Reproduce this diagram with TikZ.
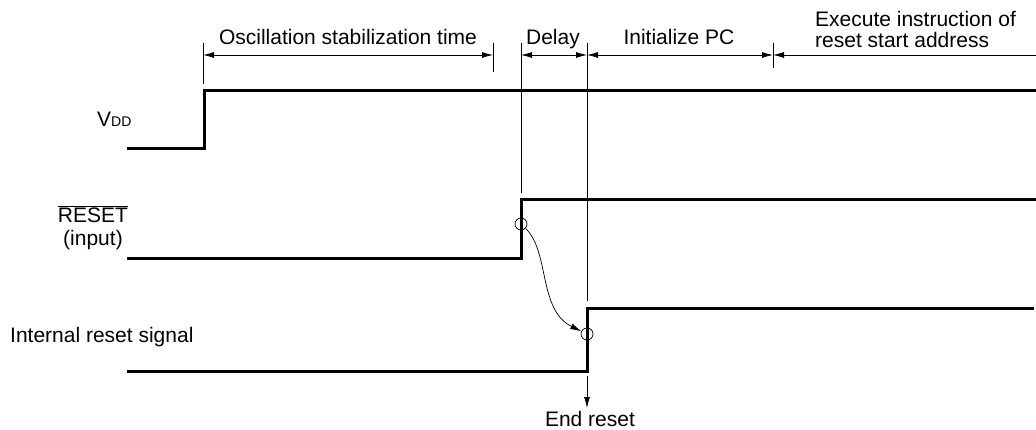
\documentclass[tikz,border=0pt]{standalone}
\usepackage{fontspec}
\setmainfont{Liberation Sans}
\usetikzlibrary{arrows.meta}
\newcommand{\myoverbar}[1]{{\setbox0\hbox{#1}\vbox{\hrule width\wd0 height 0.9pt\kern1.5pt\box0}}}
\begin{document}
\begin{tikzpicture}[x=1pt,y=-1pt,
  sig/.style={line width=3pt,line cap=rect},
  thin/.style={line width=0.8pt},
  dim/.style={line width=0.8pt,{Latex[length=11pt,width=6pt]}-{Latex[length=11pt,width=6pt]}},
  lbl/.style={font=\fontsize{21}{21}\selectfont,inner sep=0pt},
  ring/.style={draw,line width=0.7pt,circle,minimum size=12pt,inner sep=0pt}]
\useasboundingbox (0,0) rectangle (1036,430);
% ticks
\coordinate (t1a) at (203,43); \coordinate (t1b) at (203,84);
\coordinate (t2a) at (493,43); \coordinate (t2b) at (493,72);
\coordinate (t3a) at (521,43); \coordinate (t3b) at (521,193);
\coordinate (t4a) at (587,43); \coordinate (t4b) at (587,301);
\coordinate (t5a) at (773,43); \coordinate (t5b) at (773,68);
\foreach \a/\b in {t1a/t1b,t2a/t2b,t3a/t3b,t4a/t4b,t5a/t5b}
  \draw[thin] (\a) -- (\b);
% dimension arrows
\coordinate (d1) at (203,55); \coordinate (d2) at (493,55);
\coordinate (d3) at (521,55); \coordinate (d4) at (587,55);
\coordinate (d5) at (773,55); \coordinate (d6) at (1036,55);
\draw[dim] (d1) -- (d2);
\draw[dim] (d3) -- (d4);
\draw[dim] (d4) -- (d5);
\draw[thin,{Latex[length=11pt,width=6pt]}-] (d5) -- (d6);
\node[lbl,anchor=base] (osc) at (348,45) {Oscillation stabilization time};
\node[lbl,anchor=base] (dly) at (553,45) {Delay};
\node[lbl,anchor=base] (ipc) at (679,45) {Initialize PC};
\node[lbl,anchor=base west,align=left,font=\fontsize{21}{21}\selectfont] (exe) at (815,48) {Execute instruction of\\reset start address};
% VDD
\node[lbl,anchor=base west] (vdd) at (97,127) {V{\fontsize{14}{14}\selectfont DD}};
\draw[sig] (128,149) -- (204,149) -- (204,91) -- (1036,91);
% RESET
\node[lbl,anchor=base,align=center] (rst) at (93,246) {\myoverbar{RESET}\\[2pt](input)};
\draw[sig] (128,259) -- (521,259) -- (521,200) -- (1036,200);
% internal
\node[lbl,anchor=base west] (irs) at (10,342) {Internal reset signal};
\draw[sig] (128,371) -- (587,371) -- (587,309) -- (1032,309);
% circles and curve
\node[ring] (c1) at (521,224) {};
\node[ring] (c2) at (587,334) {};
\draw[line width=0.7pt,-{Latex[length=11pt,width=6pt]}] (c1) .. controls (550,252) and (538,310) .. (c2);
% end reset
\coordinate (e1) at (587,376);
\coordinate (e2) at (587,408);
\draw[thin,-{Latex[length=11pt,width=6pt]}] (e1) -- (e2);
\node[lbl,anchor=base] (end) at (590,426) {End reset};
\end{tikzpicture}
\end{document}
